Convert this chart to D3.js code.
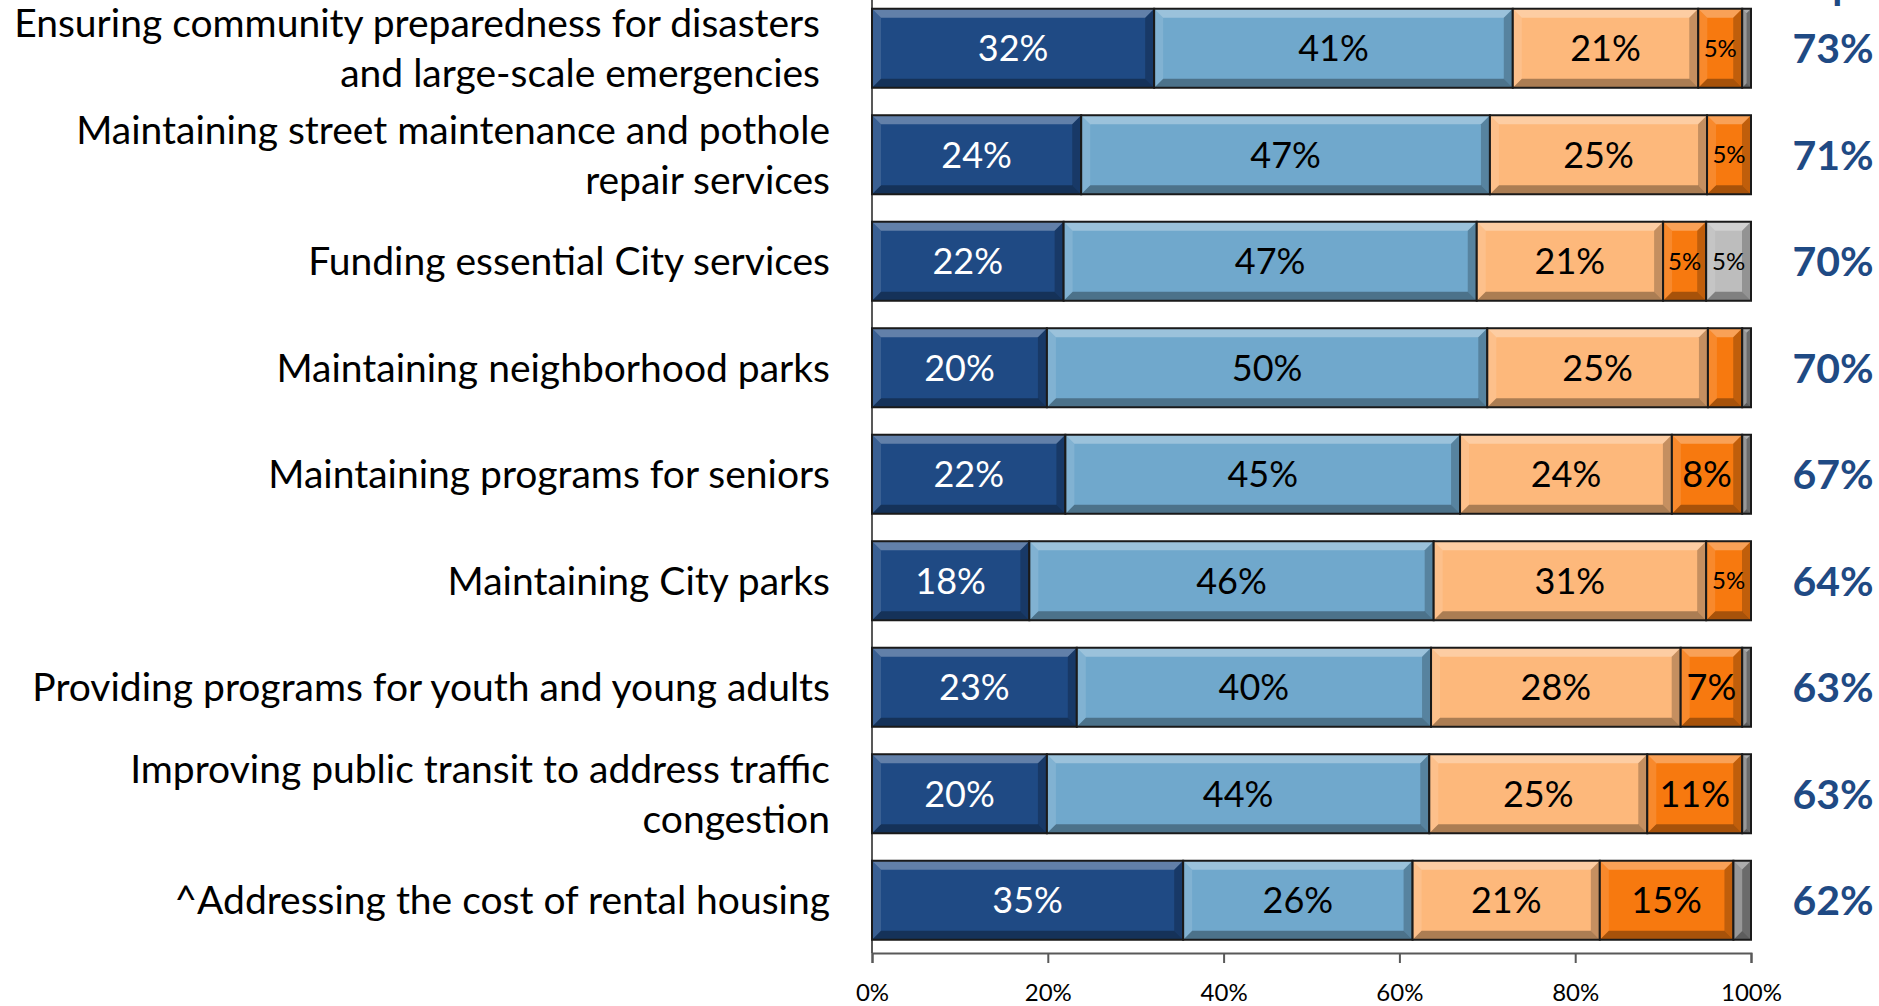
<!DOCTYPE html>
<html>
<head>
<meta charset="utf-8">
<script src="https://cdn.jsdelivr.net/npm/d3@7"></script>
<style>
  body { margin: 0; background: #fff; }
  svg { display: block; font-family: Lato, "Open Sans", sans-serif; }
</style>
</head>
<body>
<div id="chart-area"></div>
<script>
// categories, top to bottom ("\n" = line break in the label)
const categories = [
  "Ensuring community preparedness for disasters \nand large-scale emergencies ",
  "Maintaining street maintenance and pothole\nrepair services",
  "Funding essential City services",
  "Maintaining neighborhood parks",
  "Maintaining programs for seniors",
  "Maintaining City parks",
  "Providing programs for youth and young adults",
  "Improving public transit to address traffic\ncongestion",
  "^Addressing the cost of rental housing"
];

// series values (% of respondents)
const extremely   = [32.1, 23.8, 21.8, 19.9, 22.0, 17.9, 23.3, 19.9, 35.4];
const very        = [40.8, 46.5, 47.0, 50.1, 44.9, 46.0, 40.3, 43.5, 26.1];
const somewhat    = [21.1, 24.7, 21.2, 25.1, 24.1, 31.0, 28.4, 24.8, 21.3];
const notTooAtAll = [5.0, 5.0, 4.9, 3.9, 8.0, 5.1, 7.0, 10.8, 15.2];
const dontKnow    = [1.0, 0.0, 5.1, 1.0, 1.0, 0.0, 1.0, 1.0, 2.0];

// total important column on the right
const totals = [73, 71, 70, 70, 67, 64, 63, 63, 62];

const xTicks = [0, 20, 40, 60, 80, 100];

const keys = ["extremely", "very", "somewhat", "notTooAtAll", "dontKnow"];
const colors = {
  extremely: "#1f4a84",
  very: "#70a8cc",
  somewhat: "#fdb87b",
  notTooAtAll: "#f7790f",
  dontKnow: "#8a8a8a"
};
const blue = "#1f4a84";

const W = 1879, H = 1006;

const svg = d3.select("#chart-area")
  .append("svg")
    .attr("width", W)
    .attr("height", H);

// table built from the arrays
const table = categories.map((c, i) => ({
  name: c,
  extremely: extremely[i],
  very: very[i],
  somewhat: somewhat[i],
  notTooAtAll: notTooAtAll[i],
  dontKnow: dontKnow[i],
  total: totals[i]
}));

const xScale = d3.scaleLinear()
  .domain([0, 100])
  .range([872, 1751]);

const yScale = d3.scaleBand()
  .domain(categories)
  .range([-5, 953.5])
  .paddingInner(0.258)
  .paddingOuter(0.129);

const stacked = d3.stack().keys(keys)(table);

// y axis line
svg.append("line")
  .attr("x1", xScale(0)).attr("x2", xScale(0))
  .attr("y1", 0).attr("y2", 953)
  .attr("stroke", "#595959").attr("stroke-width", 2);

// x axis
const xAxis = d3.axisBottom(xScale)
  .tickValues(xTicks)
  .tickSize(10)
  .tickFormat(d => d + "%");

const axisG = svg.append("g")
  .attr("transform", "translate(0, 953)")
  .call(xAxis);
axisG.select(".domain").attr("stroke", "#595959").attr("stroke-width", 2);
axisG.selectAll(".tick line").attr("stroke", "#595959").attr("stroke-width", 2);
axisG.selectAll(".tick text")
  .attr("y", 48)
  .attr("dy", 0)
  .attr("fill", "#000")
  .style("font-family", "Lato, 'Open Sans', sans-serif")
  .style("font-size", "24px");

// bars with a bevel look
const bh = yScale.bandwidth();

stacked.forEach((series) => {
  const key = series.key;
  const g = svg.append("g").attr("class", "series-" + key);

  series.forEach((d, i) => {
    const v = d[1] - d[0];
    if (v <= 0) return;
    const x0 = xScale(d[0]), x1 = xScale(d[1]);
    const y0 = yScale(categories[i]), y1 = y0 + bh;
    const b = Math.min(9, (x1 - x0) / 2);

    let fill = colors[key];
    if (key === "dontKnow" && v >= 4.5) fill = "#bdbdbd";

    g.append("rect")
      .attr("x", x0).attr("y", y0)
      .attr("width", x1 - x0).attr("height", bh)
      .attr("fill", fill);

    const bevels = [
      { pts: [[x0, y0], [x1, y0], [x1 - b, y0 + b], [x0 + b, y0 + b]], c: "#fff", o: 0.3 },
      { pts: [[x0, y1], [x1, y1], [x1 - b, y1 - b], [x0 + b, y1 - b]], c: "#000", o: 0.32 },
      { pts: [[x0, y0], [x0 + b, y0 + b], [x0 + b, y1 - b], [x0, y1]], c: "#fff", o: 0.12 },
      { pts: [[x1, y0], [x1 - b, y0 + b], [x1 - b, y1 - b], [x1, y1]], c: "#000", o: 0.22 }
    ];
    bevels.forEach((bv) => {
      g.append("polygon")
        .attr("points", bv.pts.map(p => p.join(",")).join(" "))
        .attr("fill", bv.c)
        .attr("fill-opacity", bv.o);
    });

    g.append("rect")
      .attr("x", x0).attr("y", y0)
      .attr("width", x1 - x0).attr("height", bh)
      .attr("fill", "none")
      .attr("stroke", "#1a1a1a")
      .attr("stroke-width", 2);

    // value label
    if (v >= 4.5) {
      g.append("text")
        .attr("x", (x0 + x1) / 2)
        .attr("y", y0 + bh / 2)
        .attr("dy", "0.36em")
        .attr("text-anchor", "middle")
        .attr("fill", key === "extremely" ? "#fff" : "#000")
        .style("font-size", v < 6 ? "24px" : "36px")
        .text(Math.round(v) + "%");
    }
  });
});

// category labels
table.forEach((d) => {
  const lines = d.name.split("\n");
  const cy = yScale(d.name) + bh / 2;
  const t = svg.append("text")
    .attr("text-anchor", "end")
    .attr("xml:space", "preserve")
    .style("white-space", "pre")
    .style("font-size", "39px")
    .attr("fill", "#000");
  lines.forEach((ln, j) => {
    t.append("tspan")
      .attr("x", 830)
      .attr("y", cy + (j - (lines.length - 1) / 2) * 50)
      .attr("dy", "0.36em")
      .text(ln);
  });
});

// totals on the right
svg.selectAll(".total")
  .data(table)
  .enter()
  .append("text")
    .attr("class", "total")
    .attr("x", 1833)
    .attr("y", d => yScale(d.name) + bh / 2)
    .attr("dy", "0.36em")
    .attr("text-anchor", "middle")
    .attr("fill", blue)
    .style("font-size", "41px")
    .style("font-weight", "bold")
    .text(d => d.total + "%");

// column header, mostly cut off by the top edge
svg.append("text")
  .attr("x", 1786)
  .attr("y", -1)
  .attr("fill", blue)
  .style("font-size", "41px")
  .style("font-weight", "bold")
  .text("Important");
</script>
</body>
</html>
